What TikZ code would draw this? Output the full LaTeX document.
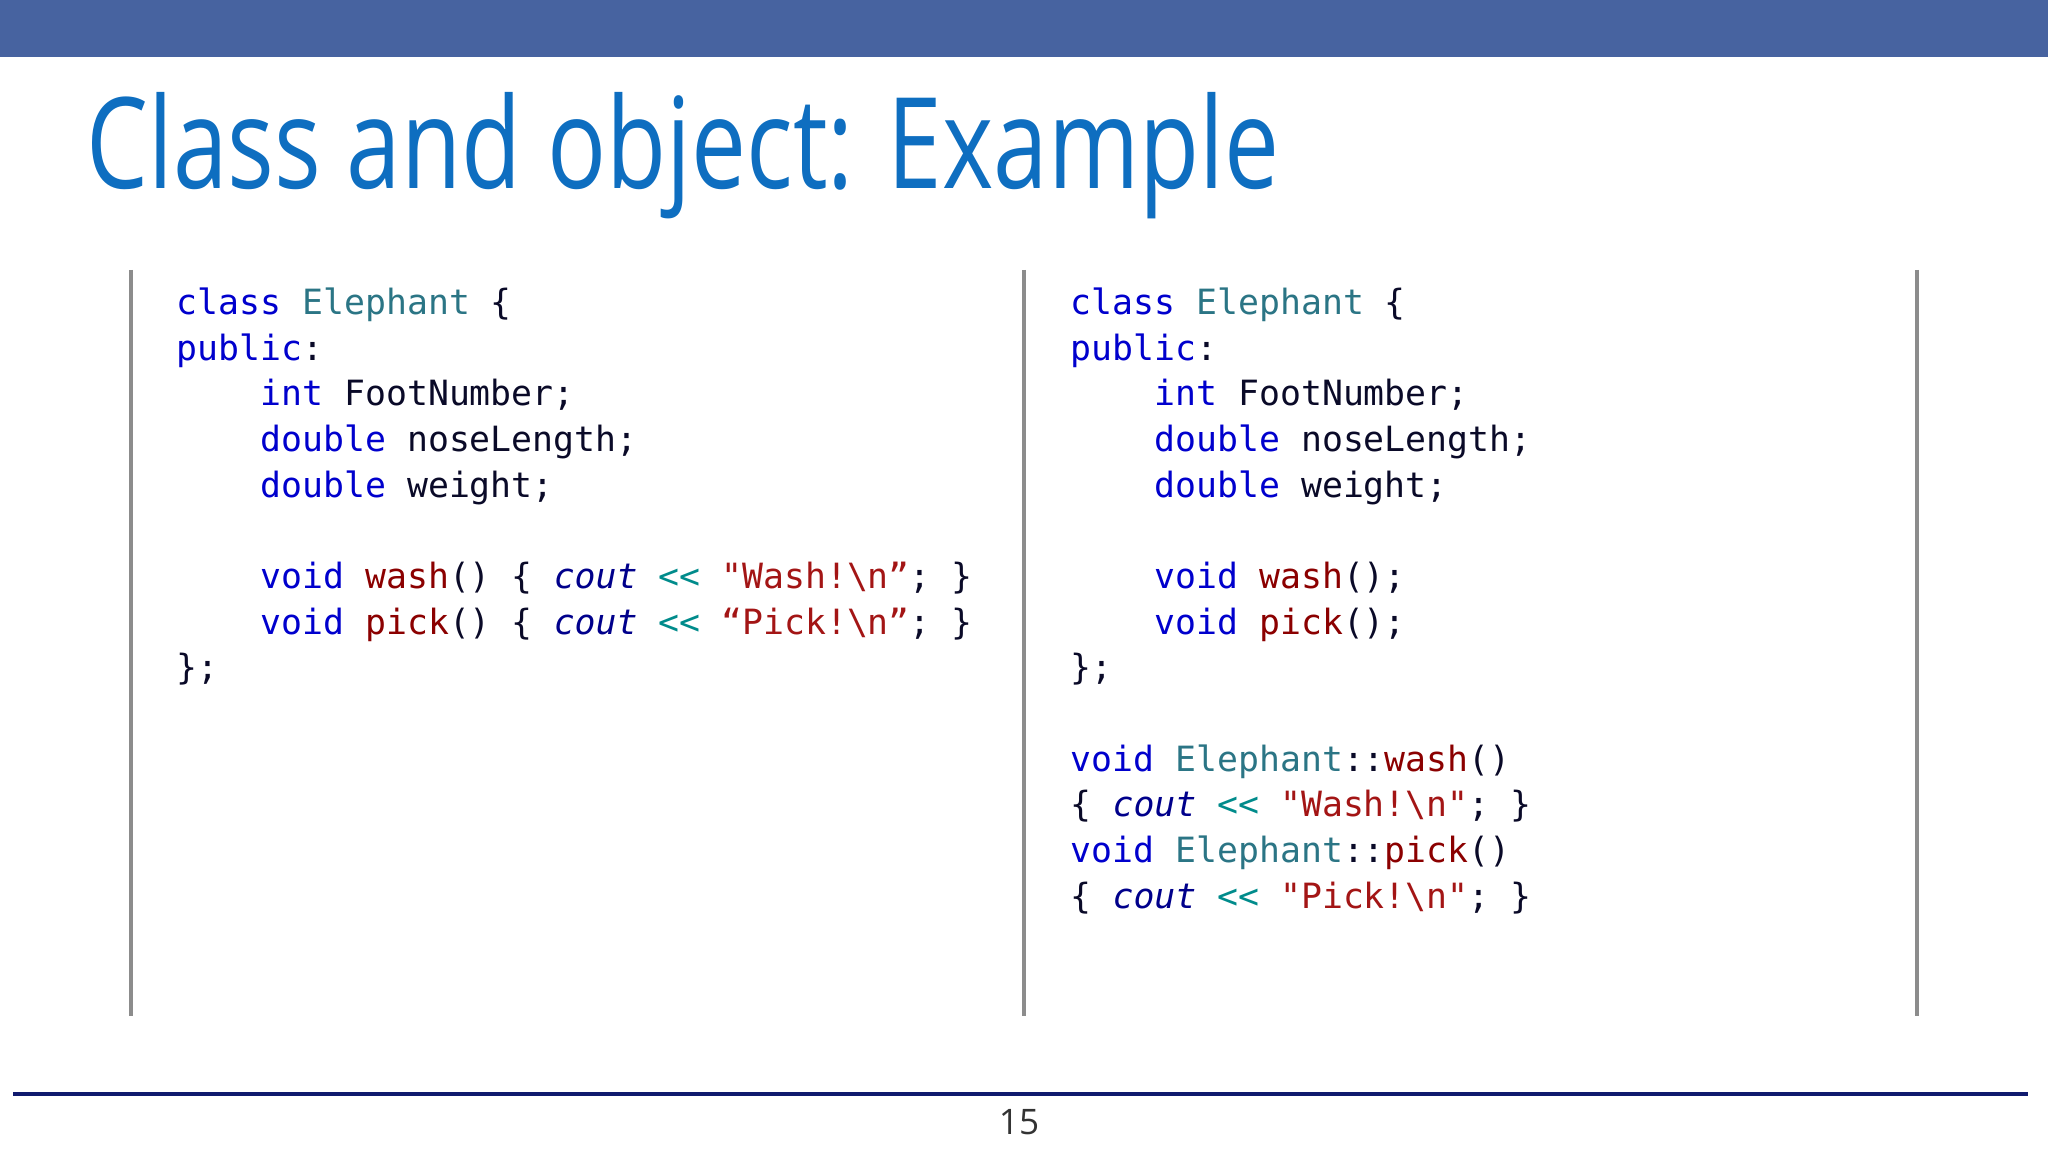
\documentclass[tikz,border=0pt]{standalone}
\usepackage{fontspec}
\setmainfont{Open Sans}
\setmonofont{DejaVu Sans Mono}
\definecolor{barc}{HTML}{4763A0}
\definecolor{titc}{HTML}{0E6EC0}
\definecolor{kwc}{HTML}{0000CD}
\definecolor{tyc}{HTML}{2B7585}
\definecolor{fnc}{HTML}{8B0000}
\definecolor{stc}{HTML}{A31515}
\definecolor{opc}{HTML}{008B8B}
\definecolor{ioc}{HTML}{00008B}
\definecolor{navy}{HTML}{101A6E}
\definecolor{plain}{HTML}{0A0A28}
\newcommand{\kw}[1]{\textcolor{kwc}{#1}}
\newcommand{\ty}[1]{\textcolor{tyc}{#1}}
\newcommand{\fn}[1]{\textcolor{fnc}{#1}}
\newcommand{\st}[1]{\textcolor{stc}{#1}}
\newcommand{\op}[1]{\textcolor{opc}{#1}}
\newcommand{\io}[1]{\textcolor{ioc}{\itshape #1}}
\newcommand{\ind}{\phantom{xxxx}}
\newcommand{\bs}{\textbackslash}
\tikzset{code/.style={anchor=north west,align=left,inner sep=0pt,text=plain,font=\ttfamily\fontsize{9.9pt}{13pt}\selectfont},
 vline/.style={draw=gray!90,line width=1.4pt}}
\begin{document}
\begin{tikzpicture}[x=1cm,y=1cm]
\useasboundingbox (0,0) rectangle (20.48,-11.52);
\fill[barc] (0,0) rectangle (20.48,-0.57);
\node[anchor=base west,inner sep=0pt,text=titc,font=\fontsize{36pt}{40pt}\selectfont] (title) at (0.86,-1.89) {\scalebox{0.775}[1]{Class and object: Example}};
\coordinate (l1) at (1.31,-2.70); \coordinate (l1b) at (1.31,-10.16);
\coordinate (l2) at (10.24,-2.70); \coordinate (l2b) at (10.24,-10.16);
\coordinate (l3) at (19.17,-2.70); \coordinate (l3b) at (19.17,-10.16);
\draw[vline] (l1) -- (l1b); \draw[vline] (l2) -- (l2b); \draw[vline] (l3) -- (l3b);
\node[code] (left) at (1.76,-2.87) {%
\kw{class} \ty{Elephant} \{\\
\kw{public}:\\
\ind\kw{int} FootNumber;\\
\ind\kw{double} noseLength;\\
\ind\kw{double} weight;\\
\mbox{}\\
\ind\kw{void} \fn{wash}() \{ \io{cout} \op{<<} \st{"Wash!\bs n”}; \}\\
\ind\kw{void} \fn{pick}() \{ \io{cout} \op{<<} \st{“Pick!\bs n”}; \}\\
\};};
\node[code] (right) at (10.70,-2.87) {%
\kw{class} \ty{Elephant} \{\\
\kw{public}:\\
\ind\kw{int} FootNumber;\\
\ind\kw{double} noseLength;\\
\ind\kw{double} weight;\\
\mbox{}\\
\ind\kw{void} \fn{wash}();\\
\ind\kw{void} \fn{pick}();\\
\};\\
\mbox{}\\
\kw{void} \ty{Elephant}::\fn{wash}()\\
\{ \io{cout} \op{<<} \st{"Wash!\bs n"}; \}\\
\kw{void} \ty{Elephant}::\fn{pick}()\\
\{ \io{cout} \op{<<} \st{"Pick!\bs n"}; \}};
\coordinate (b1) at (0.13,-10.94); \coordinate (b2) at (20.28,-10.94);
\draw[navy,line width=1.2pt] (b1) -- (b2);
\node[anchor=base,inner sep=0pt,font=\fontsize{10pt}{12pt}\selectfont,text=black!80] (pg) at (10.19,-11.34) {15};
\end{tikzpicture}
\end{document}
